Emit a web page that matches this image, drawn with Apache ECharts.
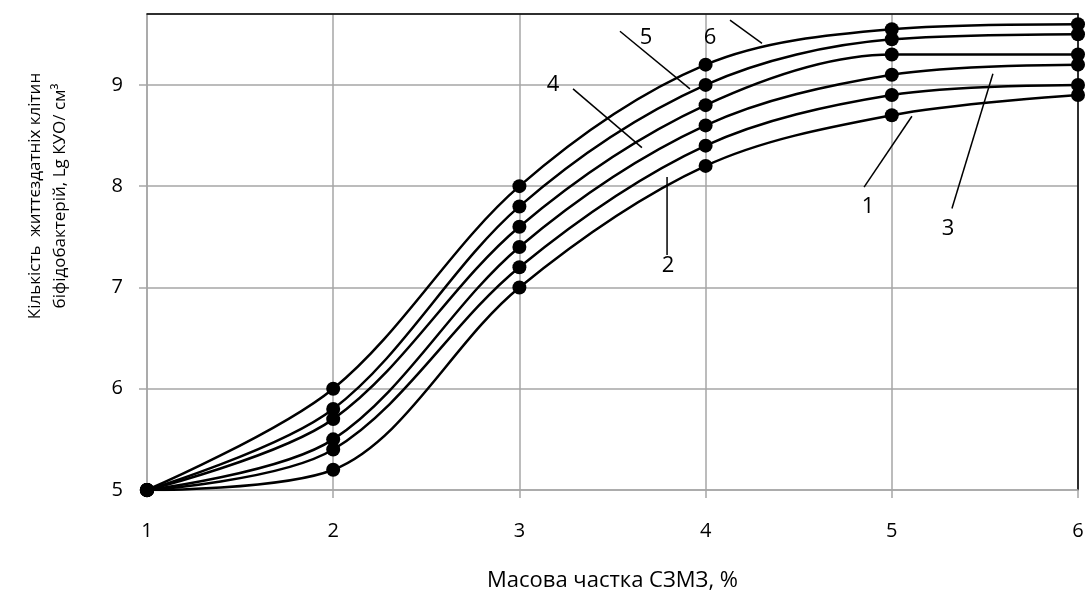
<!DOCTYPE html>
<html>
<head>
<meta charset="utf-8">
<script src="https://cdn.jsdelivr.net/npm/echarts@6/dist/echarts.min.js"></script>
<style>
  html, body { margin: 0; padding: 0; background: #fff; }
  #chart { width: 1090px; height: 594px; }
</style>
</head>
<body>
<div id="chart"></div>
<script>
// Mass fraction of the additive, %
const massFraction = [1, 2, 3, 4, 5, 6];

// Viable bifidobacteria count, lg CFU/cm³, curves 1..6
const curve1 = [5, 5.2, 7.0, 8.2, 8.7, 8.9];
const curve2 = [5, 5.4, 7.2, 8.4, 8.9, 9.0];
const curve3 = [5, 5.5, 7.4, 8.6, 9.1, 9.2];
const curve4 = [5, 5.7, 7.6, 8.8, 9.3, 9.3];
const curve5 = [5, 5.8, 7.8, 9.0, 9.45, 9.5];
const curve6 = [5, 6.0, 8.0, 9.2, 9.55, 9.6];

const curveNames = ['1', '2', '3', '4', '5', '6'];
const curves = [curve1, curve2, curve3, curve4, curve5, curve6];

const xTicks = [1, 2, 3, 4, 5, 6];
const yTicks = [5, 6, 7, 8, 9];

const xTitle = 'Масова частка СЗМЗ, %';
const yTitle = 'Кількість  життєздатніх клітин\nбіфідобактерій, Lg КУО/ см³';

// Curve callouts: number, text anchor and leader line ends (axis units)
const callouts = [
  { text: '1', at: [4.872, 7.80], from: [4.851, 7.99], to: [5.108, 8.69] },
  { text: '2', at: [3.798, 7.21], from: [3.793, 7.32], to: [3.793, 8.09] },
  { text: '3', at: [5.302, 7.58], from: [5.323, 7.78], to: [5.543, 9.11] },
  { text: '4', at: [3.180, 9.00], from: [3.288, 8.96], to: [3.658, 8.38] },
  { text: '5', at: [3.680, 9.47], from: [3.540, 9.53], to: [3.916, 8.96] },
  { text: '6', at: [4.024, 9.47], from: [4.131, 9.64], to: [4.303, 9.41] }
];

const FONT = '"Open Sans", Lato, sans-serif';
const GRID_COLOR = '#a6a6a6';

const chart = echarts.init(document.getElementById('chart'), null, { renderer: 'canvas' });

const series = curves.map((vals, i) => ({
  name: curveNames[i],
  type: 'line',
  xAxisIndex: 0,
  yAxisIndex: 0,
  data: vals.map((v, j) => [massFraction[j], v]),
  smooth: 0.33,
  symbol: 'circle',
  symbolSize: 14,
  showSymbol: true,
  itemStyle: { color: '#000' },
  lineStyle: { color: '#000', width: 2.5 },
  z: 3
}));

const option = {
  animation: false,
  backgroundColor: '#fff',
  grid: {
    left: 147, right: 12, top: 14, bottom: 104,
    containLabel: false,
    outerBoundsMode: 'none'
  },
  xAxis: [{
    type: 'value',
    min: xTicks[0],
    max: xTicks[xTicks.length - 1],
    interval: 1,
    name: xTitle,
    nameLocation: 'middle',
    nameGap: 80,
    nameTextStyle: { fontFamily: FONT, fontSize: 22, color: '#000' },
    axisLine: { show: true, lineStyle: { color: GRID_COLOR, width: 1.5 } },
    axisTick: { show: true, length: 8, lineStyle: { color: GRID_COLOR, width: 1.5 } },
    axisLabel: { margin: 31, fontFamily: FONT, fontSize: 20, color: '#000' },
    splitLine: { show: true, lineStyle: { color: GRID_COLOR, width: 1.5 } }
  }, {
    type: 'value',
    position: 'top',
    min: xTicks[0],
    max: xTicks[xTicks.length - 1],
    axisLine: { show: true, onZero: false, lineStyle: { color: '#000', width: 1.5 } },
    axisTick: { show: false },
    axisLabel: { show: false },
    splitLine: { show: false }
  }],
  yAxis: [{
    type: 'value',
    min: yTicks[0],
    max: 9.7,
    interval: 1,
    axisLine: { show: true, lineStyle: { color: GRID_COLOR, width: 1.5 } },
    axisTick: { show: true, length: 8, lineStyle: { color: GRID_COLOR, width: 1.5 } },
    axisLabel: {
      margin: 24, fontFamily: FONT, fontSize: 20, color: '#000',
      showMaxLabel: false,
      formatter: v => (yTicks.indexOf(v) >= 0 ? String(v) : '')
    },
    splitLine: { show: true, lineStyle: { color: GRID_COLOR, width: 1.5 } }
  }, {
    type: 'value',
    position: 'right',
    min: yTicks[0],
    max: 9.7,
    axisLine: { show: true, onZero: false, lineStyle: { color: '#000', width: 1.5 } },
    axisTick: { show: false },
    axisLabel: { show: false },
    splitLine: { show: false }
  }],
  series: series
};

chart.setOption(option);

// Callout numbers with leader lines, and the rotated y-axis title
function drawAnnotations() {
  const px = p => chart.convertToPixel({ xAxisIndex: 0, yAxisIndex: 0 }, p);
  const elements = [];
  callouts.forEach(c => {
    const a = px(c.from), b = px(c.to), t = px(c.at);
    elements.push({
      type: 'line',
      shape: { x1: a[0], y1: a[1], x2: b[0], y2: b[1] },
      style: { stroke: '#000', lineWidth: 1.5 },
      z: 10
    });
    elements.push({
      type: 'text',
      x: t[0], y: t[1],
      style: {
        text: c.text, fontFamily: FONT, fontSize: 22, fill: '#000',
        align: 'center', verticalAlign: 'middle'
      },
      z: 10
    });
  });
  elements.push({
    type: 'text',
    x: 48, y: 196,
    rotation: Math.PI / 2,
    style: {
      text: yTitle, fontFamily: FONT, fontSize: 17, lineHeight: 25, fill: '#000',
      align: 'center', verticalAlign: 'middle'
    },
    z: 10
  });
  chart.setOption({ graphic: { elements: elements } });
}
drawAnnotations();
</script>
</body>
</html>
